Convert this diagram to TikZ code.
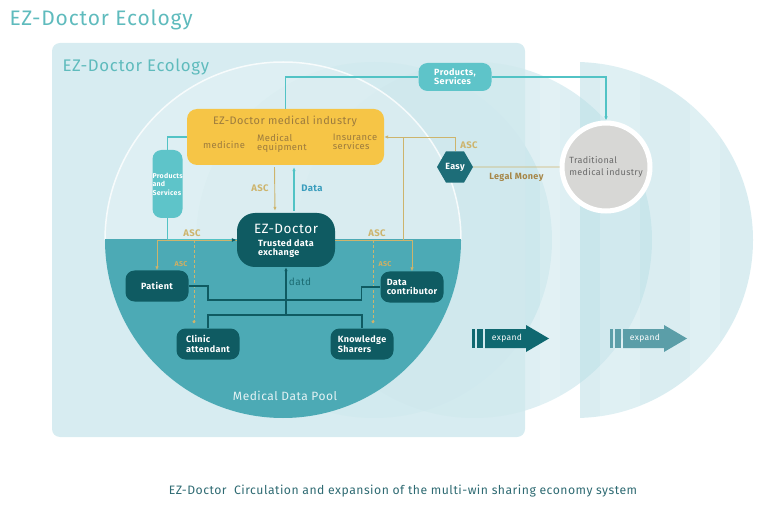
\documentclass[tikz,border=0pt]{standalone}
\usepackage{fontspec}
\setmainfont{Fira Sans}[LetterSpace=4]
\usepackage{tikz}
\usetikzlibrary{shapes.geometric, arrows.meta, positioning, calc}
\usepackage{xcolor}
\definecolor{ezbg}{RGB}{208,233,238}
\definecolor{ezlayer}{RGB}{181,220,228}
\definecolor{ezpool}{RGB}{76,170,181}
\definecolor{ezdark}{RGB}{15,91,98}
\definecolor{ezhex}{RGB}{29,109,120}
\definecolor{ezorange}{RGB}{246,197,70}
\definecolor{ezbrown}{RGB}{156,123,62}
\definecolor{ezgold}{RGB}{205,180,108}
\definecolor{ezcyan}{RGB}{82,195,197}
\definecolor{ezpill}{RGB}{94,196,201}
\definecolor{eztitle}{RGB}{95,187,189}
\definecolor{ezgray}{RGB}{215,215,213}
\definecolor{ezgraytext}{RGB}{106,106,106}
\definecolor{ezcaption}{RGB}{46,106,114}
\definecolor{ezdata}{RGB}{58,157,189}
\definecolor{ezarrow}{RGB}{15,104,112}
\definecolor{ezarrowlt}{RGB}{91,158,168}

\tikzset{
  darkbox/.style={fill=ezdark, rounded corners=9pt, text=white, font=\bfseries\fontsize{9}{9.5}\selectfont,
    minimum width=63pt, minimum height=31pt, align=left, inner sep=1pt},
  goldline/.style={draw=ezgold, line width=0.9pt},
  tealline/.style={draw=ezcyan, line width=1.2pt},
  linkline/.style={draw=ezdark, line width=1.3pt},
  arrowtip/.style={-{Latex[length=4pt,width=3.5pt]}},
  goldlabel/.style={text=ezgold, font=\bfseries\fontsize{9.5}{10}\selectfont},
  indtext/.style={text=ezbrown, font=\fontsize{9.4}{9}\selectfont, align=left, inner sep=0pt},
}

\begin{document}
\begin{tikzpicture}[x=1pt, y=-1pt]
        \useasboundingbox (0,0) rectangle (784,521);
        % Expansion layers
        \begin{scope}
          \clip (580,0) rectangle (784,521);
          \fill[ezlayer, opacity=0.5] (575,240) circle (178pt);
        \end{scope}
        \fill[ezlayer, opacity=0.45] (474,240) circle (178pt);
        \fill[ezlayer, opacity=0.4] (374,240) circle (178pt);
        % Light stripes
        \begin{scope}
          \clip (575,240) circle (178pt) (474,240) circle (178pt);
          \foreach \xa/\xb in {470/500, 540/560, 600/640, 690/720}
            \fill[white, opacity=0.15] (\xa,40) rectangle (\xb,440);
        \end{scope}
        % Ecology panel
        \fill[ezbg, opacity=0.85, rounded corners=8pt] (52,43) rectangle (525,437);
        % Main circle
        \begin{scope}
          \clip (90,40) rectangle (470,240);
          \fill[white, opacity=0.2] (283,240) circle (178pt);
          \draw[white, line width=1.5pt, opacity=0.8] (283,240) circle (178pt);
        \end{scope}
        \begin{scope}
          \clip (90,240) rectangle (470,430);
          \fill[ezpool] (283,240) circle (178pt);
        \end{scope}
        % Titles
        \node[anchor=west, text=eztitle, font=\fontsize{21}{22}\selectfont] (title) at (6,20) {EZ-Doctor Ecology};
        \node[anchor=west, text=eztitle, font=\fontsize{16.8}{18}\selectfont] (paneltitle) at (59,67) {EZ-Doctor Ecology};
        \node[text=ezcaption, font=\fontsize{12.2}{14}\selectfont] (caption) at (403,491)
          {EZ-Doctor\ \ Circulation and expansion of the multi-win sharing economy system};
        % Industry box
        \node[fill=ezorange, rounded corners=10pt, minimum width=197pt, minimum height=56pt] (ind) at (285.5,137) {};
        \node[indtext, font=\fontsize{10.9}{11}\selectfont] (indtitle) at (285,121) {EZ-Doctor medical industry};
        \node[indtext] (med) at (224,145) {medicine};
        \node[indtext] (equip) at (282,143) {Medical\\equipment};
        \node[indtext] (insur) at (355,142) {Insurance\\services};
        % EZ-Doctor core
        \node[fill=ezdark, rounded corners=18pt, minimum width=98pt, minimum height=54pt] (ezd) at (286,240) {};
        \node[text=white, font=\fontsize{13.5}{14}\selectfont, inner sep=0pt] (ezdtitle) at (286,229) {EZ-Doctor};
        \node[text=white, font=\bfseries\fontsize{9}{9}\selectfont, align=left, inner sep=0pt] (ezdsub) at (286,249)
          {Trusted data\\exchange};
        % Participants
        \node[darkbox] (pat) at (157,286) {Patient};
        \node[darkbox] (dcon) at (412,287) {Data\\contributor};
        \node[darkbox] (clin) at (208,344) {Clinic\\attendant};
        \node[darkbox] (know) at (362,344) {Knowledge\\Sharers};
        % Products pills
        \node[fill=ezpill, rounded corners=9pt, text width=30pt, minimum height=68pt, inner sep=0pt,
              align=left, text=white, font=\bfseries\fontsize{7}{8.5}\selectfont] (pills) at (167.5,184)
          {Products\\and\\Services};
        \node[fill=ezpill, rounded corners=9pt, minimum width=73pt, minimum height=28pt, inner sep=0pt,
              align=left, text=white, font=\bfseries\fontsize{9}{9}\selectfont] (pserv) at (455,77)
          {Products,\\Services};
        % Traditional industry
        \node[circle, fill=ezgray, draw=white, line width=5pt, minimum size=88pt, inner sep=0pt,
              align=left, text=ezgraytext, font=\fontsize{9}{12}\selectfont] (trad) at (606,167)
          {Traditional\\medical industry};
        \node[regular polygon, regular polygon sides=6, fill=ezhex, minimum size=36pt, inner sep=0pt,
              text=white, font=\bfseries\fontsize{9}{9}\selectfont] (easy) at (455,167) {Easy};
        % Teal connectors
        \draw[tealline] (ind.west) -| (pills.north);
        \draw[tealline] (pills.south) |- (ezd.west);
        \draw[tealline] (ind.north) |- (pserv.west);
        \draw[tealline, arrowtip] (pserv.east) -| (trad.north);
        % Gold connectors
        \coordinate (lsplit) at (194,240);
        \coordinate (rsplit) at (373,240);
        \coordinate (rjoin) at (403,240);
        \draw[goldline, arrowtip] (ezd.west) -| (pat.north);
        \draw[goldline, -{Latex[length=5pt,width=4pt,color=ezdark]}] ($(ezd.west)+(-12,0)$) -- (ezd.west);
        \draw[goldline, arrowtip] (ezd.east) -| (dcon.north);
        \draw[goldline] (rjoin) -- (rjoin |- ind.east);
        \draw[goldline, arrowtip] (easy.north) |- (ind.east);
        \draw[goldline] (easy.east) -- (trad.west)
          node[midway, below=2pt, goldlabel, text=ezbrown!80!ezgold, font=\bfseries\fontsize{9}{9}\selectfont] {Legal Money};
        \draw[goldline, densely dashed, -{Circle[length=3pt]}, shorten >=5pt] (lsplit) -- (lsplit |- clin.north);
        \draw[goldline, densely dashed, -{Circle[length=3pt]}, shorten >=5pt] (rsplit) -- (rsplit |- know.north);
        \draw[goldline, arrowtip, shorten >=2pt, shorten <=2pt] ($(ind.south)+(-11,0)$) -- ($(ezd.north)+(-11,0)$);
        \draw[tealline, arrowtip, shorten >=2pt, shorten <=2pt] ($(ezd.north)+(8,0)$) -- ($(ind.south)+(8.5,0)$);
        % Gold labels
        \node[goldlabel] at (260,188) {ASC};
        \node[goldlabel, text=ezdata] at (312,188) {Data};
        \node[goldlabel] at (192,233) {ASC};
        \node[goldlabel] at (377,233) {ASC};
        \node[goldlabel, font=\bfseries\fontsize{7}{7}\selectfont, text=ezgold!90!orange] at (181,264) {ASC};
        \node[goldlabel, font=\bfseries\fontsize{7}{7}\selectfont, text=ezgold!90!orange] at (385,264) {ASC};
        \node[goldlabel] at (469,145) {ASC};
        % Data pool links
        \coordinate (hub) at (286,315);
        \draw[linkline] (pat.east) -| (208,300) -| ($(dcon.west)+(-19,0)$) -- (dcon.west);
        \draw[linkline] (clin.north) |- (hub) -| (know.north);
        \draw[linkline, arrowtip] (hub) -- (ezd.south);
        \node[text=ezdark!80!ezpool, font=\fontsize{10}{10}\selectfont] (datd) at (300,282) {datd};
        \node[text=white!85!ezpool, font=\fontsize{12}{12}\selectfont] (pool) at (285,396) {Medical Data Pool};
        % Expand arrows
        \foreach \dx/\col in {0/ezarrow, 138/ezarrowlt} {
          \fill[\col] (472+\dx,329) rectangle (475+\dx,348);
          \fill[\col] (477+\dx,329) rectangle (483+\dx,348);
          \fill[\col] (485+\dx,329) -- (526+\dx,329) -- (526+\dx,325) -- (549+\dx,338.5)
            -- (526+\dx,352) -- (526+\dx,348) -- (485+\dx,348) -- cycle;
        }
        \node[text=white, font=\fontsize{8.5}{9}\selectfont] (exp1) at (507,338) {expand};
        \node[text=white, font=\fontsize{8.5}{9}\selectfont] (exp2) at (645,338) {expand};
      \end{tikzpicture}
\end{document}
